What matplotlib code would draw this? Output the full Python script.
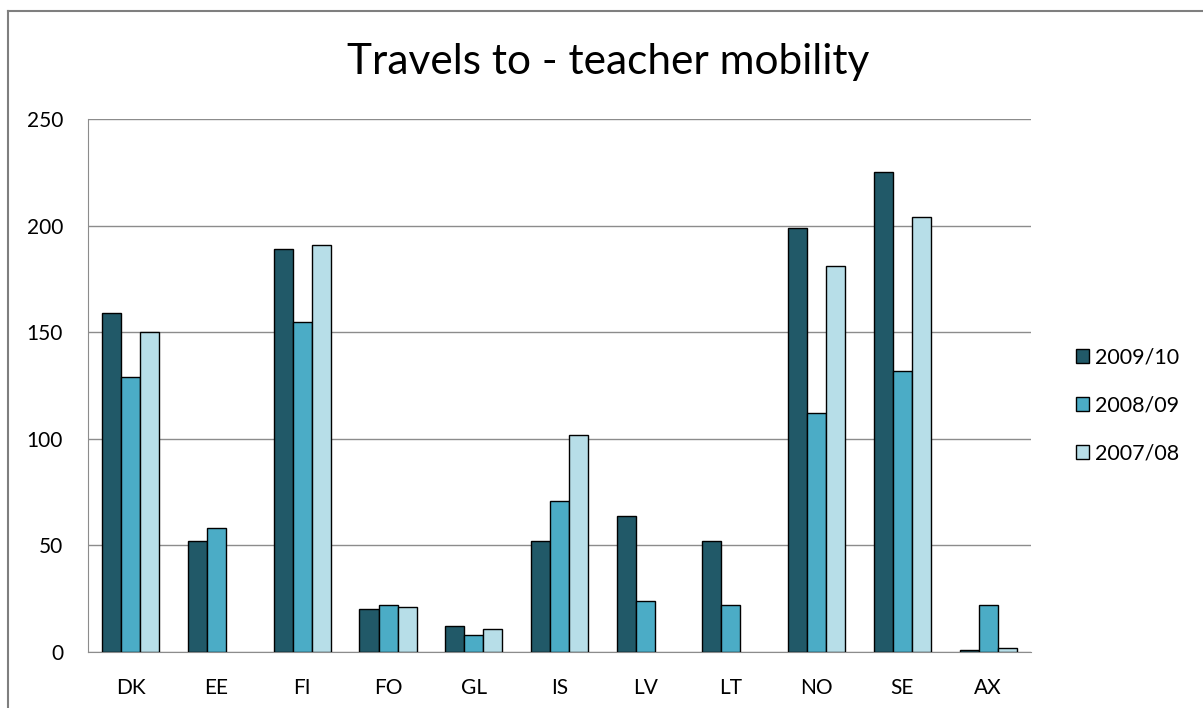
import matplotlib.pyplot as plt
import numpy as np
from matplotlib.lines import Line2D

plt.rcParams['font.family'] = ['Lato', 'DejaVu Sans']

# データ（None = 値なし）
countries = ["DK", "EE", "FI", "FO", "GL", "IS", "LV", "LT", "NO", "SE", "AX"]
y2009_10 = [159, 52, 189, 20, 12, 52, 64, 52, 199, 225, 1]
y2008_09 = [129, 58, 155, 22, 8, 71, 24, 22, 112, 132, 22]
y2007_08 = [150, None, 191, 21, 11, 102, None, None, 181, 204, 2]
series_names = ["2009/10", "2008/09", "2007/08"]
colors = ["#215968", "#4BACC6", "#B7DEE8"]

fig = plt.figure(figsize=(12.03, 7.08), dpi=100)
ax = fig.add_axes([88 / 1203, 1 - 652 / 708, (1031 - 88) / 1203, (652 - 119) / 708])

x = np.arange(len(countries))
w = 0.222
for i, (vals, name, c) in enumerate(zip([y2009_10, y2008_09, y2007_08], series_names, colors)):
    v = np.array([np.nan if a is None else a for a in vals], dtype=float)
    ax.bar(x + (i - 1) * w, v, width=w, color=c, edgecolor="black",
           linewidth=1.0, label=name, zorder=3)

ax.set_xlim(-0.5, len(countries) - 0.5)
ax.set_ylim(0, 250)
ax.set_yticks(range(0, 251, 50))
ax.set_xticks(x)
ax.set_xticklabels(countries)
ax.yaxis.grid(True, color="#8c8c8c", linewidth=1.0, zorder=0)
ax.tick_params(axis="both", length=0, labelsize=15, colors="black")
ax.tick_params(axis="x", pad=19)
ax.tick_params(axis="y", pad=18)
for s in ["top", "right"]:
    ax.spines[s].set_visible(False)
ax.spines["left"].set_color("#8c8c8c")
ax.spines["bottom"].set_color("#8c8c8c")

fig.text(608 / 1203, 1 - 62 / 708, "Travels to - teacher mobility", fontsize=30.5,
         ha="center", va="center")

ax.legend(loc="center left", bbox_to_anchor=(1.027, 0.463), frameon=False,
          fontsize=15.5, handlelength=0.62, handleheight=0.62, labelspacing=1.3,
          handletextpad=0.25)

# 外枠（左と上だけ見える）
fig.add_artist(Line2D([8 / 1203, 8 / 1203], [0, 1 - 11 / 708], color="#7f7f7f", linewidth=1.5))
fig.add_artist(Line2D([8 / 1203, 1], [1 - 11 / 708, 1 - 11 / 708], color="#7f7f7f", linewidth=1.5))

fig.savefig("out.png", dpi=100)
